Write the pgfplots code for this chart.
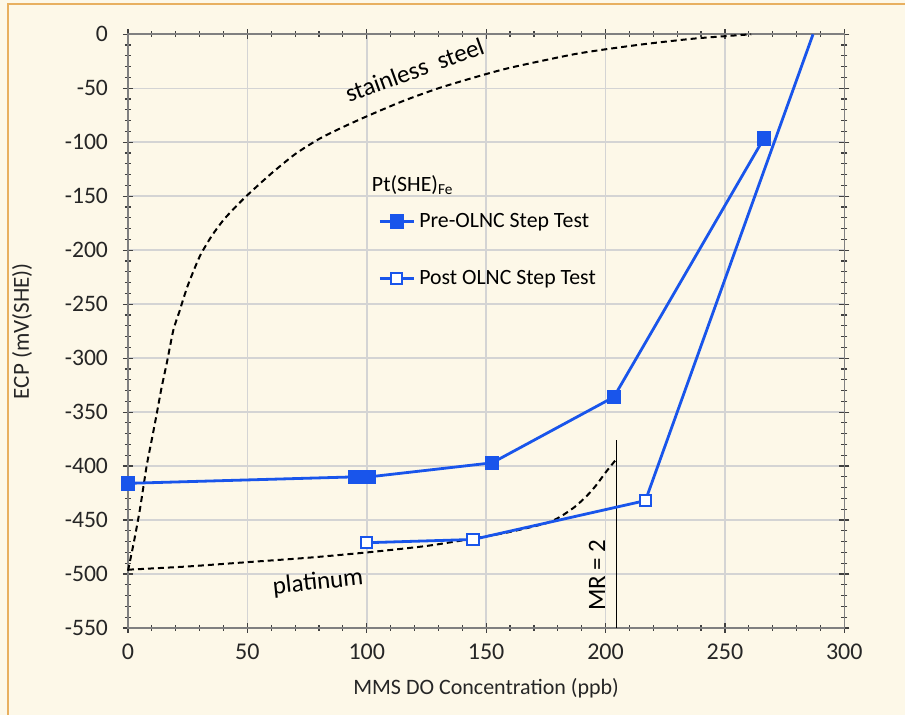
\documentclass[border=0pt]{standalone}
\usepackage{pgfplots}
\pgfplotsset{compat=1.18}
\usepackage{fontspec}
\setmainfont{Carlito}

\definecolor{bgcream}{RGB}{253,248,232}
\definecolor{frameorange}{RGB}{232,176,96}
\definecolor{serblue}{RGB}{25,85,235}
\definecolor{axgray}{RGB}{128,128,128}
\definecolor{gridgray}{RGB}{212,212,212}

\begin{document}
\begin{tikzpicture}
% background panel (1px = 0.5pt)
\fill[bgcream] (-64pt,-43.5pt) rectangle (388.5pt,314pt);
\useasboundingbox (-64pt,-43.5pt) rectangle (388.5pt,314pt);
\draw[frameorange, line width=1pt] (-60pt,-43.5pt) -- (-60pt,312pt) -- (388.5pt,312pt);

\begin{axis}[
    scale only axis,
    width=358.15pt, height=296.85pt,
    xmin=0, xmax=300, ymin=-550, ymax=0,
    xtick={0,50,...,300}, ytick={-550,-500,...,0},
    minor x tick num=4, minor y tick num=4,
    grid=major,
    major grid style={gridgray, line width=0.75pt},
    axis line style={axgray, line width=0.8pt},
    tick style={black!75, line width=0.6pt},
    tick align=center, major tick length=5pt, minor tick length=3pt,
    /pgf/number format/assume math mode=true,
    xticklabel style={font=\fontsize{12}{14}\selectfont, text=black!85, yshift=-2pt},
    yticklabel style={font=\fontsize{11.8}{14}\selectfont, text=black!85, xshift=-4pt},
    xlabel={MMS DO Concentration (ppb)},
    ylabel={ECP (mV(SHE))},
    xlabel style={font=\fontsize{11}{13}\selectfont, text=black!85,
        at={(axis description cs:0.5,-0.101)}, anchor=center},
    ylabel style={font=\fontsize{11.5}{13}\selectfont, text=black!85,
        at={(axis description cs:-0.148,0.5)}, anchor=center},
    clip=false,
    legend cell align=left,
    legend style={at={(axis cs:104.7,-200)}, anchor=west, draw=none, fill=none,
        inner sep=0pt, row sep=16pt, font=\fontsize{10.9}{12}\selectfont},
]

% stainless steel
\addplot[black, line width=1pt, dash pattern=on 3pt off 2pt, smooth, tension=0.4, forget plot] coordinates {
    (0,-497) (2.5,-470) (5,-440) (7.8,-400) (10,-375) (12,-352) (14,-328)
    (16.2,-305) (19,-274) (21.5,-257) (25,-233) (30,-206) (35,-187)
    (40,-172) (45,-160) (50,-149) (60,-129) (70,-111) (80,-97) (90,-86) (100,-76)
    (115,-62) (130,-50) (145,-40) (160,-31) (188,-18) (213,-10) (237,-4) (261,0)
};

% platinum
\addplot[black, line width=1pt, dash pattern=on 3pt off 2pt, smooth, tension=0.4, forget plot] coordinates {
    (0,-496) (25,-493) (50,-489) (75,-485) (100,-480) (125,-474) (145,-467)
    (160,-461) (175,-453) (181,-447) (187,-438) (192,-428) (196,-418)
    (200,-406) (204,-395)
};

% MR = 2
\addplot[black, line width=0.9pt, forget plot] coordinates {(204.6,-376) (204.6,-550)};

% Pre-OLNC
\addplot[serblue, line width=1.4pt, mark=square*, mark size=2.9pt,
    mark options={solid, fill=serblue}] coordinates {
    (0,-416) (95,-410) (101,-410) (152.5,-397) (203.5,-336) (266.3,-96.5)
};
\addlegendentry{Pre-OLNC Step Test}

% Post OLNC
\addplot[serblue, line width=1.4pt, mark=square*, mark size=2.8pt,
    mark options={solid, fill=white, draw=serblue, line width=1pt}] coordinates {
    (100,-471) (144.5,-468) (216.7,-432)
};
\addlegendentry{Post OLNC Step Test}
\addplot[serblue, line width=1.4pt, forget plot] coordinates {(216.7,-432) (286.9,0)};

\node[anchor=west, font=\fontsize{10.9}{12}\selectfont] at (axis cs:99.2,-139.8)
    {Pt(SHE)\textsubscript{Fe}};
\node[rotate=20, font=\fontsize{12.5}{14}\selectfont] at (axis cs:120,-33)
    {stainless\hspace{0.45em}steel};
\node[rotate=6, font=\fontsize{12.5}{14}\selectfont] at (axis cs:79.6,-508) {platinum};
\node[rotate=90, font=\fontsize{12.5}{14}\selectfont] at (axis cs:196.4,-501) {MR = 2};
\end{axis}
\end{tikzpicture}
\end{document}
